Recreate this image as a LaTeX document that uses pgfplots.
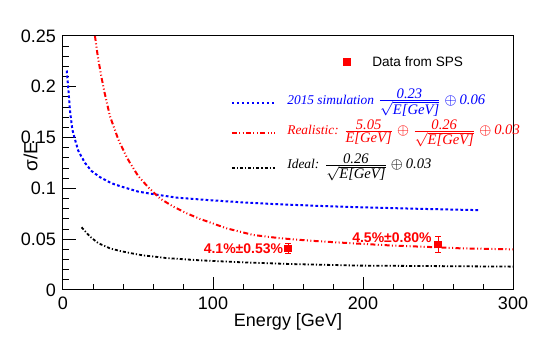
\documentclass[border=0pt]{standalone}
\usepackage{amsmath}
\usepackage{fontspec}
\setmainfont{Liberation Sans}
\newfontfamily\tms{Liberation Serif}
\usepackage{pgfplots}
\pgfplotsset{compat=1.18}

\newcommand{\fb}[1]{\mbox{\fontsize{7.3}{8}\selectfont #1}}
\newcommand{\fr}[2]{\frac{\textstyle\fb{#1}}{\textstyle#2}}
\newcommand{\sqe}{\sqrt{\fb{E[GeV]}}}
\newcommand{\op}{\mskip3mu{\oplus}\mskip3mu}

\begin{document}
\begin{tikzpicture}
\path[use as bounding box] (-31.5pt,-25pt) rectangle (241pt,145pt);
\begin{axis}[
    at={(0,0)}, anchor=south west,
    scale only axis, width=225pt, height=127pt,
    xmin=0, xmax=300, ymin=0, ymax=0.25,
    xtick={0,100,200,300}, minor x tick num=4,
    ytick={0,0.05,0.1,0.15,0.2,0.25}, minor y tick num=4,
    xtick pos=bottom, ytick pos=left, tick align=inside,
    major tick length=6.5pt, minor tick length=3.2pt,
    tick style={black, line width=0.5pt},
    axis line style={line width=0.5pt},
    tick label style={font=\fontsize{9}{10}\selectfont},
    /pgf/number format/assume math mode=true,
    yticklabel style={/pgf/number format/fixed, /pgf/number format/precision=2},
    xlabel={Energy [GeV]}, ylabel={σ/E},
    every axis x label/.style={at={(rel axis cs:0.5,0)}, anchor=center, yshift=-16pt, font=\fontsize{9}{10}\selectfont},
    every axis y label/.style={at={(rel axis cs:-0.0722,0.526)}, anchor=center, rotate=90, font=\fontsize{9.5}{10}\selectfont},
    clip mode=individual,
]
% 2015 simulation
\addplot[blue, line width=1pt, dash pattern=on 1.35pt off 1.15pt] coordinates {
(2.5,0.216) (3.6,0.197) (4.7,0.176) (6.2,0.158) (8.4,0.146) (10.2,0.137) (12.4,0.131)
(14.7,0.125) (19.1,0.117) (24.7,0.111) (32.4,0.105) (39.1,0.1017) (50.2,0.0968)
(61.3,0.0941) (75.8,0.0909) (95.8,0.0886) (120,0.0862) (140,0.0846) (170,0.0828)
(198,0.0814) (240,0.0798) (277,0.0786)};
% Realistic
\addplot[red, line width=1pt, dash pattern=on 2.5pt off 1.2pt on 0.5pt off 1.2pt on 0.5pt off 1.2pt] coordinates {
(21.3,0.25) (23.1,0.231) (25.3,0.212) (27.6,0.195) (31.3,0.171) (36.9,0.148) (42.4,0.131)
(44.7,0.125) (50.2,0.112) (56.9,0.101) (64.7,0.090) (73.6,0.082) (82.4,0.0755)
(91.3,0.0700) (109,0.0607) (127,0.0541) (145,0.0509) (165,0.0485) (190,0.0462)
(220,0.0437) (250,0.0420) (265,0.0410) (300,0.0400)};
% Ideal
\addplot[black, line width=0.9pt, dash pattern=on 1.5pt off 1pt on 0.6pt off 1pt] coordinates {
(12.4,0.0617) (18,0.0525) (23.6,0.046) (31.3,0.041) (38,0.0384) (45.8,0.0361)
(53.6,0.0340) (61.3,0.0328) (69.1,0.0314) (78,0.0305) (91.3,0.0292) (120,0.0272)
(153,0.0255) (198,0.0240) (250,0.0235) (300,0.0230)};
% data from SPS
\addplot[red, only marks, mark=square*, mark size=1.6pt,
    error bars/.cd, y dir=both, y explicit, error mark options={red, rotate=90, mark size=1.4pt, line width=0.4pt},
    error bar style={line width=0.4pt}] coordinates {
(150,0.041) +- (0,0.0053)
(250,0.045) +- (0,0.0080)};

\node[text=red, font=\bfseries\fontsize{7}{8}\selectfont] at (axis cs:120.3,0.0404) {4.1\%±0.53\%};
\node[text=red, font=\bfseries\fontsize{7}{8}\selectfont] at (axis cs:219.3,0.0515) {4.5\%±0.80\%};

% legend
\addplot[red, only marks, mark=square*, mark size=1.6pt] coordinates {(189.3,0.2244)};
\node[anchor=west, font=\fontsize{6.8}{8}\selectfont] at (axis cs:201.5,0.2244) {Data from SPS};

\draw[blue, line width=1pt, dash pattern=on 1.35pt off 1.15pt] (axis cs:112.5,0.1841) -- (axis cs:141.3,0.1841);
\node[anchor=base west, inner sep=0pt, text=blue, font=\tms\itshape\fontsize{6.7}{8}\selectfont]
  at (axis cs:149.3,0.1830) {2015 simulation $\fr{0.23}{\sqe}\op\fb{0.06}$};

\draw[red, line width=1pt, dash pattern=on 2.5pt off 1.2pt on 0.5pt off 1.2pt on 0.5pt off 1.2pt] (axis cs:112.5,0.1545) -- (axis cs:141.3,0.1545);
\node[anchor=base west, inner sep=0pt, text=red, font=\tms\itshape\fontsize{6.7}{8}\selectfont]
  at (axis cs:149.3,0.1530) {Realistic: $\fr{5.05}{\fb{E[GeV]}}\op\fr{0.26}{\sqe}\op\fb{0.03}$};

\draw[black, line width=0.9pt, dash pattern=on 1.5pt off 1pt on 0.6pt off 1pt] (axis cs:112.5,0.1201) -- (axis cs:141.3,0.1201);
\node[anchor=base west, inner sep=0pt, text=black, font=\tms\itshape\fontsize{6.7}{8}\selectfont]
  at (axis cs:149.3,0.1191) {Ideal: $\fr{0.26}{\sqe}\op\fb{0.03}$};
\end{axis}
\end{tikzpicture}
\end{document}
